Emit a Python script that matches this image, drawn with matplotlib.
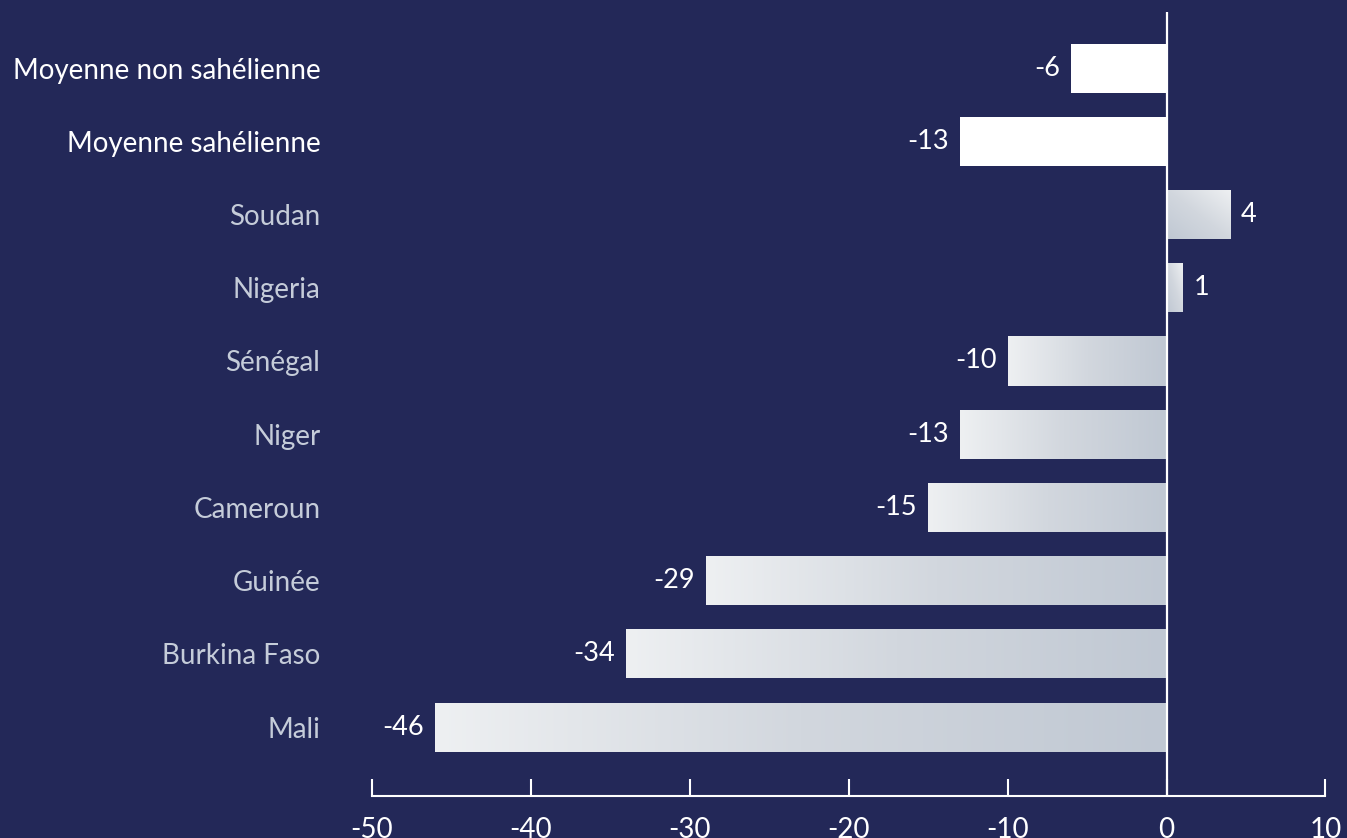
import matplotlib

matplotlib.use("Agg")

import matplotlib.pyplot as plt
import numpy as np
from matplotlib.colors import LinearSegmentedColormap
from matplotlib.patches import Rectangle

categories = [
    "Moyenne non sahélienne",
    "Moyenne sahélienne",
    "Soudan",
    "Nigeria",
    "Sénégal",
    "Niger",
    "Cameroun",
    "Guinée",
    "Burkina Faso",
    "Mali",
]
values = [-6, -13, 4, 1, -10, -13, -15, -29, -34, -46]
averages = ["Moyenne non sahélienne", "Moyenne sahélienne"]
xticks = [-50, -40, -30, -20, -10, 0, 10]

BG = "#232858"
LABEL_GREY = "#c5ccd9"

plt.rcParams["font.family"] = ["Lato", "DejaVu Sans"]

bar_cmap = LinearSegmentedColormap.from_list("bar_fade", ["#eef0f2", "#d2d7de", "#c0c8d3"])

fig = plt.figure(figsize=(13.47, 8.38), dpi=100, facecolor=BG)
ax = fig.add_axes([0.276, 0.05, 0.708, 0.936], facecolor=BG)

n = len(categories)
ypos = np.arange(n)[::-1]
bar_h = 0.67

for cat, val, y in zip(categories, values, ypos):
    x0, x1 = min(0, val), max(0, val)
    y0, y1 = y - bar_h / 2, y + bar_h / 2
    if cat in averages:
        ax.add_patch(Rectangle((x0, y0), x1 - x0, bar_h, facecolor="white",
                               edgecolor="none", zorder=2))
    else:
        rect = Rectangle((x0, y0), x1 - x0, bar_h, facecolor="none",
                         edgecolor="none", zorder=2)
        ax.add_patch(rect)
        if val < 0:
            grad = np.linspace(0, 1, 256).reshape(1, -1)
        else:
            gx, gy = np.meshgrid(np.linspace(0, 1, 64), np.linspace(0, 1, 64))
            grad = 1 - (gx + gy) / 2
        im = ax.imshow(grad, cmap=bar_cmap, extent=(x0, x1, y0, y1),
                       aspect="auto", origin="lower", zorder=2,
                       interpolation="bilinear")
        im.set_clip_path(rect)

    if val < 0:
        ax.annotate(f"{val}", (val, y), xytext=(-8, 0), textcoords="offset points",
                    ha="right", va="center", color="white", fontsize=19.5, zorder=3)
    else:
        ax.annotate(f"{val}", (val, y), xytext=(8, 0), textcoords="offset points",
                    ha="left", va="center", color="white", fontsize=19.5, zorder=3)

ax.axvline(0, color="white", linewidth=1.6, zorder=4)

ax.set_xlim(-50, 10)
ax.set_ylim(-0.943, 9.77)
ax.set_xticks(xticks)
ax.set_xticklabels([str(t) for t in xticks])
ax.set_yticks(ypos)
ax.set_yticklabels(categories)
for lab in ax.get_yticklabels():
    lab.set_color("white" if lab.get_text() in averages else LABEL_GREY)

ax.tick_params(axis="x", direction="in", length=12, width=1.5, color="white",
               labelcolor="white", labelsize=20, pad=15)
ax.tick_params(axis="y", length=0, labelsize=20, pad=37)

for side in ("top", "right", "left"):
    ax.spines[side].set_visible(False)
ax.spines["bottom"].set_color("white")
ax.spines["bottom"].set_linewidth(1.5)

fig.savefig("out.png", dpi=100, facecolor=BG)
